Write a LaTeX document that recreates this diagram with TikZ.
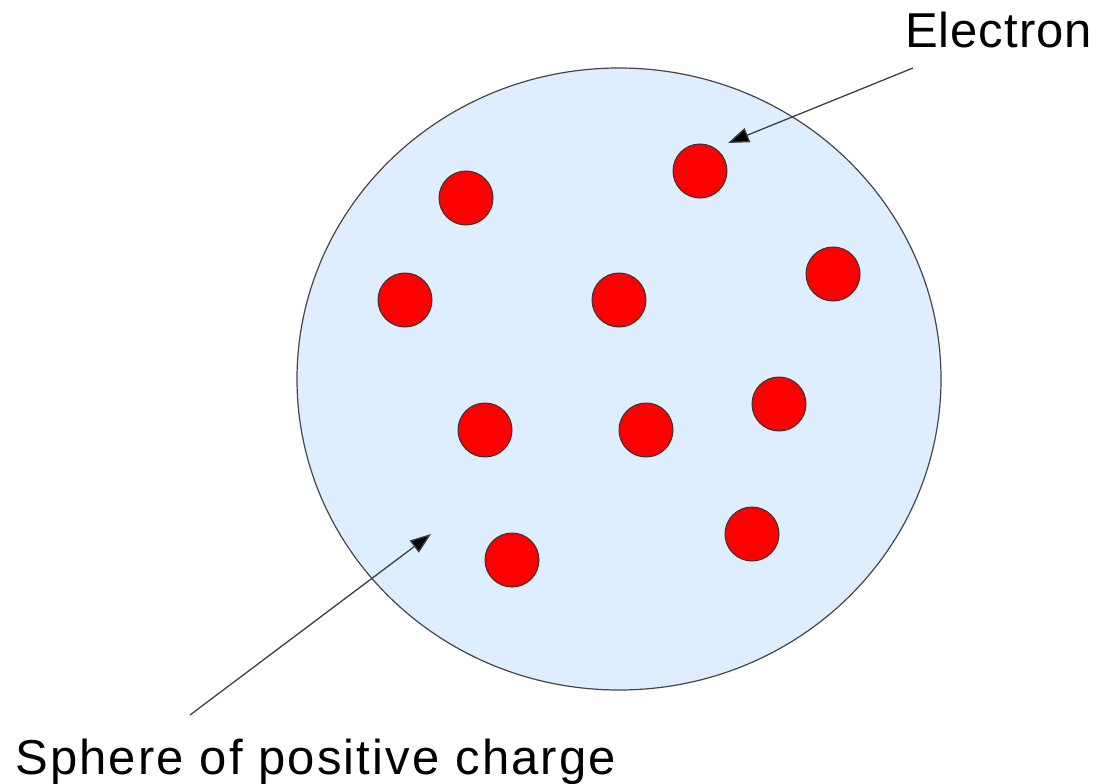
\documentclass[tikz,border=0pt]{standalone}
\usepackage{fontspec}
\setmainfont{Liberation Sans}
\usetikzlibrary{shapes.geometric,arrows.meta}
\definecolor{spherefill}{RGB}{222,238,254}
\definecolor{outline}{RGB}{70,70,70}
\begin{document}
\begin{tikzpicture}[x=1bp,y=-1bp,
  sphere/.style={ellipse,draw=outline,line width=1.2bp,fill=spherefill,
    minimum width=644bp,minimum height=622bp,inner sep=0pt},
  electron/.style={circle,draw=black!80,line width=1bp,fill=red,minimum size=54bp,inner sep=0pt},
  label/.style={font=\fontsize{49bp}{59bp}\selectfont,inner sep=0pt,anchor=base west},
  pointer/.style={draw=black!75,line width=1.3bp,-{Triangle[length=21bp,width=15bp,fill=black]}}]
\useasboundingbox (0,0) rectangle (1100,784);
\node[sphere] (sph) at (619,379) {};
\node[electron] (e1) at (466,198) {};
\node[electron] (e2) at (700,171) {};
\node[electron] (e3) at (405,300) {};
\node[electron] (e4) at (619,300) {};
\node[electron] (e5) at (833,274) {};
\node[electron] (e6) at (485,430) {};
\node[electron] (e7) at (646,430) {};
\node[electron] (e8) at (779,404) {};
\node[electron] (e9) at (752,534) {};
\node[electron] (e10) at (512,560) {};
\node[label] (elab) at (905,48) {\addfontfeatures{LetterSpace=2}Electron};
\node[label] (slab) at (15,774) {\addfontfeatures{LetterSpace=4.4}Sphere of positive charge};
\coordinate (estart) at (913,68);
\coordinate (etip) at (728,143);
\coordinate (sstart) at (190,715);
\coordinate (stip) at (431,534);
\draw[pointer] (estart) -- (etip);
\draw[pointer] (sstart) -- (stip);
\end{tikzpicture}
\end{document}
